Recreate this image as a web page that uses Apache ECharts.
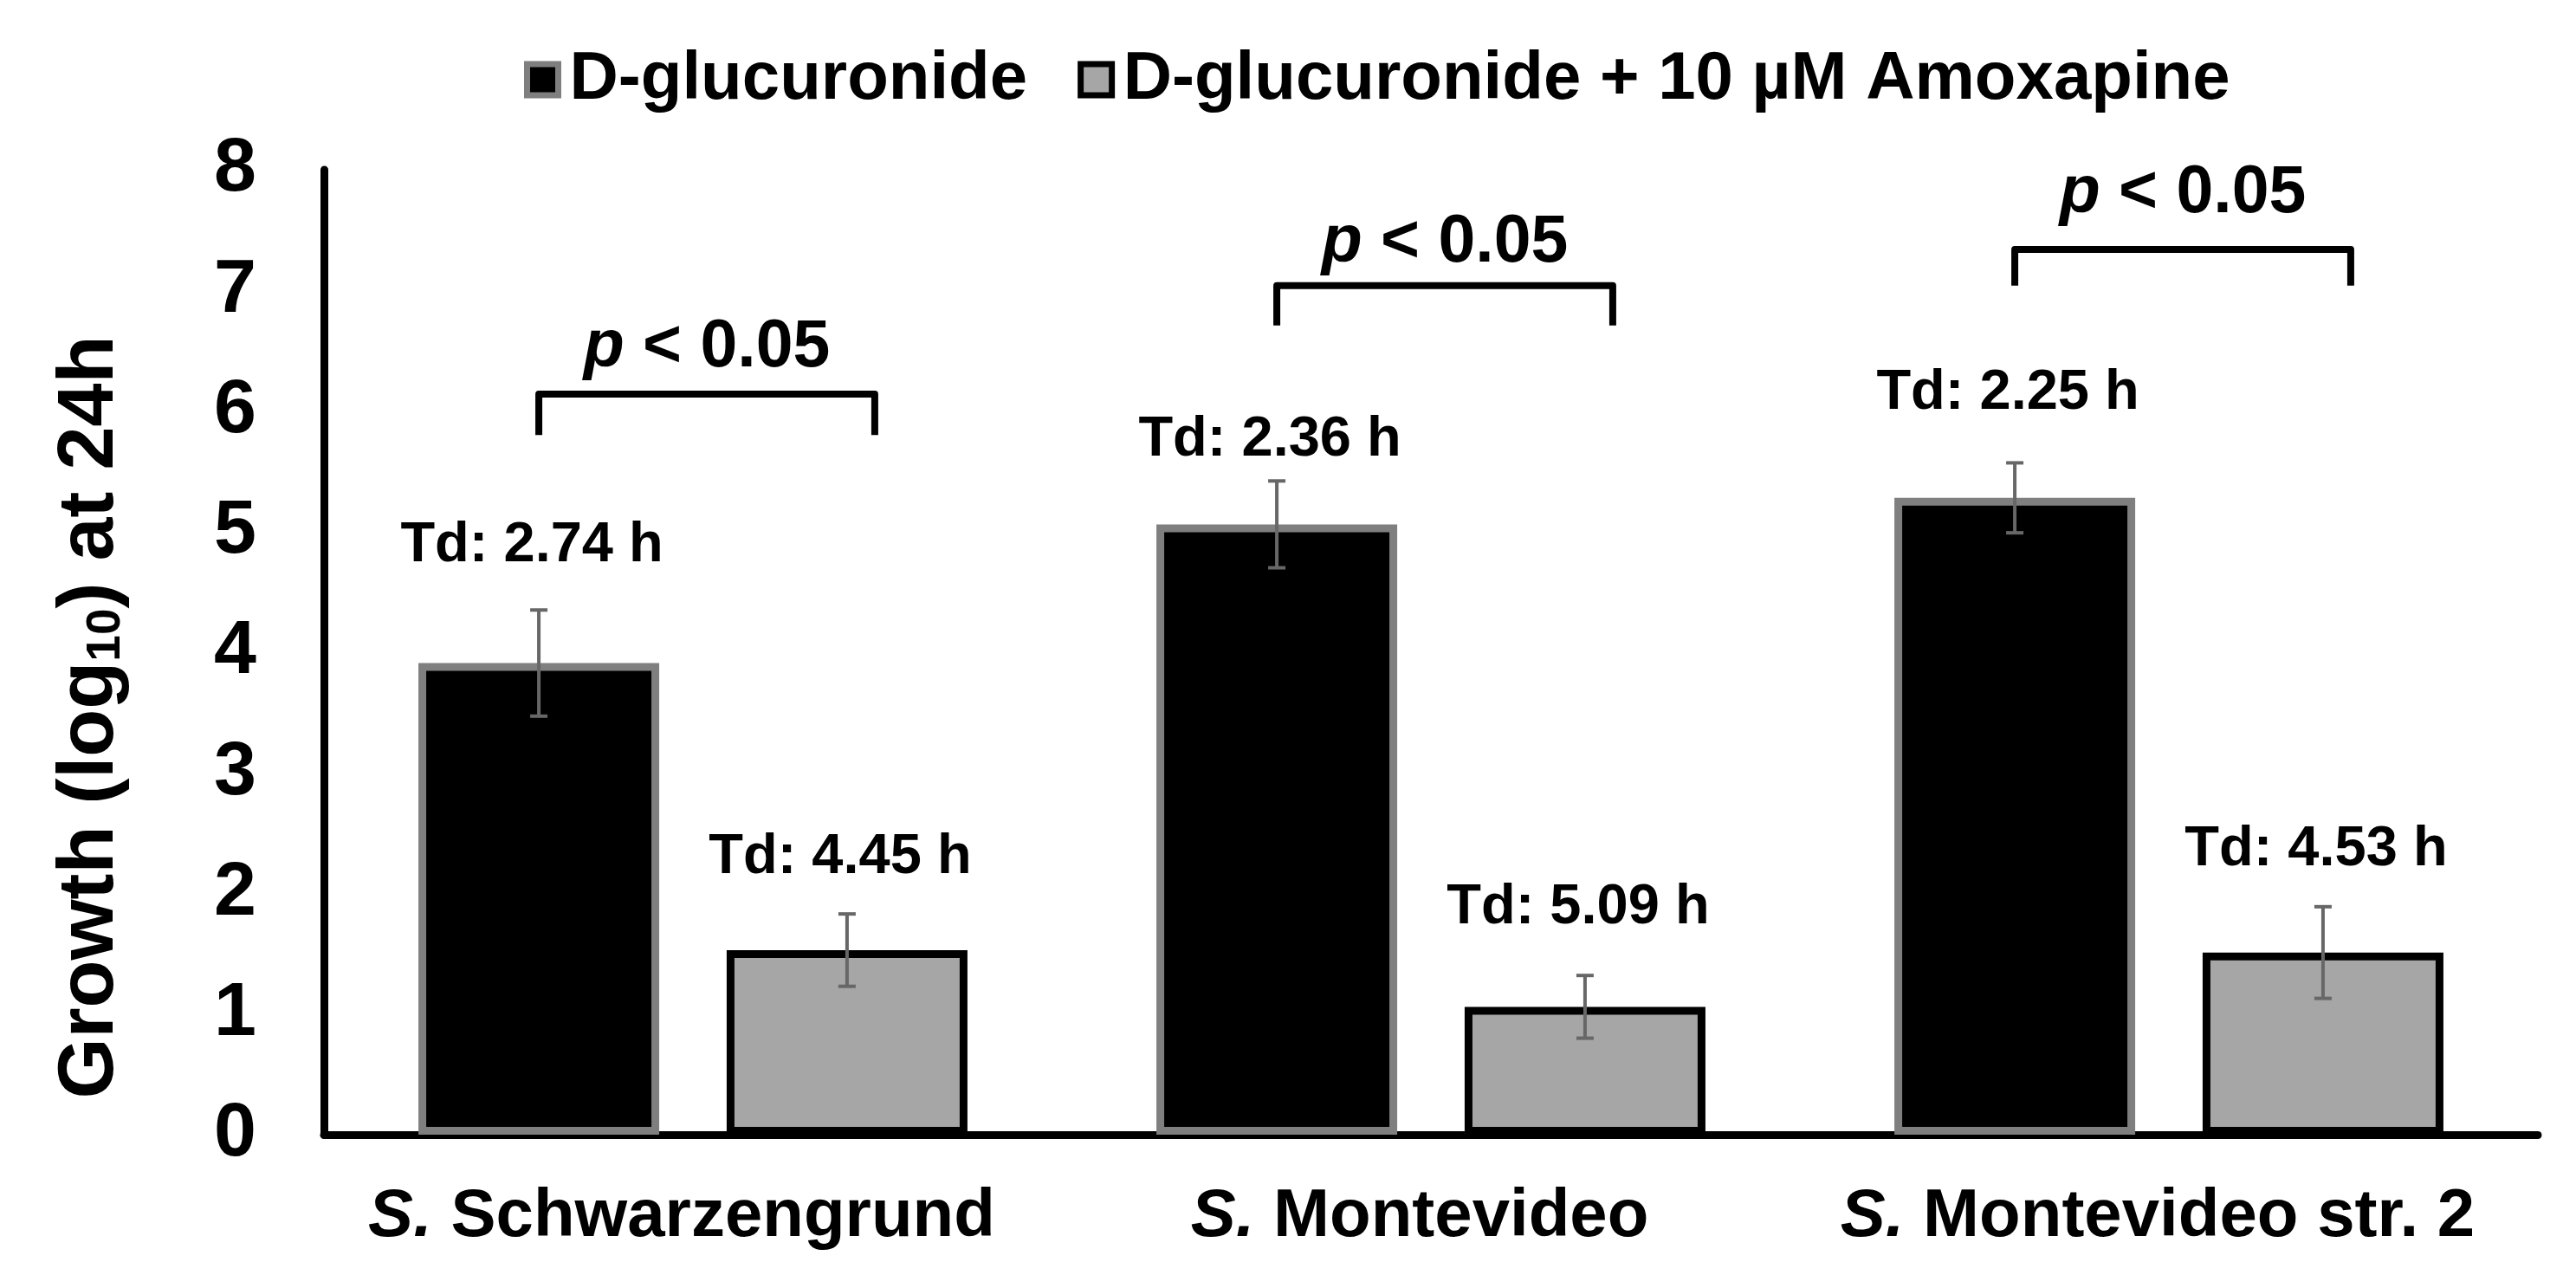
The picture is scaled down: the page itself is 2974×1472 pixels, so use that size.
<!DOCTYPE html>
<html lang="en">
<head>
  <meta charset="UTF-8">
  <title>Growth at 24h</title>
  <script src="https://cdn.jsdelivr.net/npm/echarts@6/dist/echarts.min.js"></script>
  <style>
    html, body { margin: 0; padding: 0; background: #fff; }
    #chart { width: 2974px; height: 1472px; }
  </style>
</head>
<body>
  <div id="chart"></div>
  <script>
    // data
    var strains = ['S. Schwarzengrund', 'S. Montevideo', 'S. Montevideo str. 2']
    var seriesNames = ['D-glucuronide', 'D-glucuronide + 10 µM Amoxapine']
    var growthPlain = [3.91, 5.06, 5.28]
    var growthAmox = [1.53, 1.06, 1.51]
    var errPlain = [0.44, 0.36, 0.29]
    var errAmox = [0.30, 0.26, 0.38]
    var tdPlain = ['Td: 2.74 h', 'Td: 2.36 h', 'Td: 2.25 h']
    var tdAmox = ['Td: 4.45 h', 'Td: 5.09 h', 'Td: 4.53 h']
    // y level (axis units) of each annotation
    var tdPlainAt = [4.88, 5.76, 6.15]
    var tdAmoxAt = [2.30, 1.88, 2.36]
    var bracketTop = [6.14, 7.04, 7.34]
    var bracketFoot = [5.80, 6.71, 7.04]
    var pLabelAt = [6.52, 7.39, 7.80]
    var pLabel = 'p < 0.05';

    (function (echarts) {
      var FONT = '"Liberation Sans", Arial, sans-serif'
      var BAR_W = 278
      var BAR_GAP = 0.28
      var OFF = (BAR_W + BAR_W * BAR_GAP) / 2 // bar centre from band centre

      var chart = echarts.init(document.getElementById('chart'))

      function idx (arr) {
        return arr.map(function (v, i) { return [i, v] })
      }

      // error bar: [cat, value, err]
      function errRender (side) {
        return function (params, api) {
          var x = api.coord([api.value(0), 0])[0] + side * OFF
          var v = api.value(1), e = api.value(2)
          var hi = api.coord([api.value(0), v + e])[1]
          var lo = api.coord([api.value(0), v - e])[1]
          var st = { stroke: '#676767', lineWidth: 4 }
          return {
            type: 'group',
            children: [
              { type: 'line', shape: { x1: x, y1: hi, x2: x, y2: lo }, style: st },
              { type: 'line', shape: { x1: x - 10, y1: hi, x2: x + 10, y2: hi }, style: st },
              { type: 'line', shape: { x1: x - 10, y1: lo, x2: x + 10, y2: lo }, style: st }
            ]
          }
        }
      }

      // doubling-time label: [cat, y]
      function tdRender (side, texts) {
        return function (params, api) {
          var p = api.coord([api.value(0), api.value(1)])
          return {
            type: 'text',
            style: {
              x: p[0] + side * OFF - 8, y: p[1], text: texts[params.dataIndex],
              font: 'bold 65px ' + FONT, fill: '#000', align: 'center', verticalAlign: 'middle'
            }
          }
        }
      }

      // significance bracket: [cat, top, foot, labelY]
      function bracketRender (params, api) {
        var c = api.value(0)
        var cx = api.coord([c, 0])[0]
        var top = api.coord([c, api.value(1)])[1]
        var foot = api.coord([c, api.value(2)])[1]
        var ly = api.coord([c, api.value(3)])[1]
        var xl = cx - OFF
        var xr = cx + OFF + 32
        return {
          type: 'group',
          children: [
            {
              type: 'polyline',
              shape: { points: [[xl, foot], [xl, top], [xr, top], [xr, foot]] },
              style: { stroke: '#000', lineWidth: 8, fill: null, lineJoin: 'round' }
            },
            {
              type: 'text',
              style: {
                x: (xl + xr) / 2, y: ly, text: '{i|p}' + pLabel.slice(1),
                font: 'bold 77px ' + FONT, fill: '#000', align: 'center', verticalAlign: 'middle',
                rich: { i: { fontStyle: 'italic', fontWeight: 'bold', fontSize: 77, fontFamily: FONT } }
              }
            }
          ]
        }
      }

      chart.setOption({
        animation: false,
        textStyle: { fontFamily: FONT },
        legend: {
          data: seriesNames,
          left: 600,
          top: 48,
          icon: 'rect',
          itemWidth: 36,
          itemHeight: 36,
          itemGap: 58,
          itemStyle: { borderWidth: 7 },
          textStyle: { fontSize: 78, fontWeight: 'bold', color: '#000', padding: [0, 0, 0, 8] }
        },
        grid: { left: 374, right: 44, top: 196, bottom: 162, containLabel: false },
        xAxis: {
          type: 'category',
          data: strains,
          axisLine: { lineStyle: { color: '#000', width: 9 } },
          axisTick: { show: false },
          axisLabel: {
            interval: 0,
            margin: 56,
            fontSize: 78,
            fontWeight: 'bold',
            color: '#000',
            padding: [0, 26, 0, 0],
            formatter: function (s) {
              return '{i|S.}' + s.slice(2)
            },
            rich: { i: { fontStyle: 'italic', fontWeight: 'bold', fontSize: 78, color: '#000' } }
          }
        },
        yAxis: {
          type: 'value',
          min: 0,
          max: 8,
          interval: 1,
          name: 'Growth (log{sub|10}) at 24h',
          nameLocation: 'middle',
          nameRotate: 90,
          nameGap: 224,
          nameTextStyle: {
            fontSize: 90, fontWeight: 'bold', color: '#000',
            padding: [0, 150, 0, 0],
            rich: { sub: { fontSize: 55, fontWeight: 'bold', color: '#000', verticalAlign: 'bottom', padding: [30, 0, 0, 0] } }
          },
          axisLine: { show: true, lineStyle: { color: '#000', width: 9 } },
          axisTick: { show: false },
          splitLine: { show: false },
          axisLabel: { margin: 78, fontSize: 88, fontWeight: 'bold', color: '#000' }
        },
        series: [
          {
            name: seriesNames[0],
            type: 'bar',
            barWidth: BAR_W,
            barGap: BAR_GAP * 100 + '%',
            data: growthPlain,
            itemStyle: { color: '#000', borderColor: '#7f7f7f', borderWidth: 9 }
          },
          {
            name: seriesNames[1],
            type: 'bar',
            barWidth: BAR_W,
            data: growthAmox,
            itemStyle: { color: '#a6a6a6', borderColor: '#000', borderWidth: 9 }
          },
          {
            type: 'custom', z: 5, renderItem: errRender(-1),
            data: growthPlain.map(function (v, i) { return [i, v, errPlain[i]] })
          },
          {
            type: 'custom', z: 5, renderItem: errRender(1),
            data: growthAmox.map(function (v, i) { return [i, v, errAmox[i]] })
          },
          {
            type: 'custom', z: 5, renderItem: tdRender(-1, tdPlain),
            data: idx(tdPlainAt)
          },
          {
            type: 'custom', z: 5, renderItem: tdRender(1, tdAmox),
            data: idx(tdAmoxAt)
          },
          {
            type: 'custom', z: 5, renderItem: bracketRender,
            data: bracketTop.map(function (t, i) { return [i, t, bracketFoot[i], pLabelAt[i]] })
          }
        ]
      })
    })(window.echarts)
  </script>
</body>
</html>
